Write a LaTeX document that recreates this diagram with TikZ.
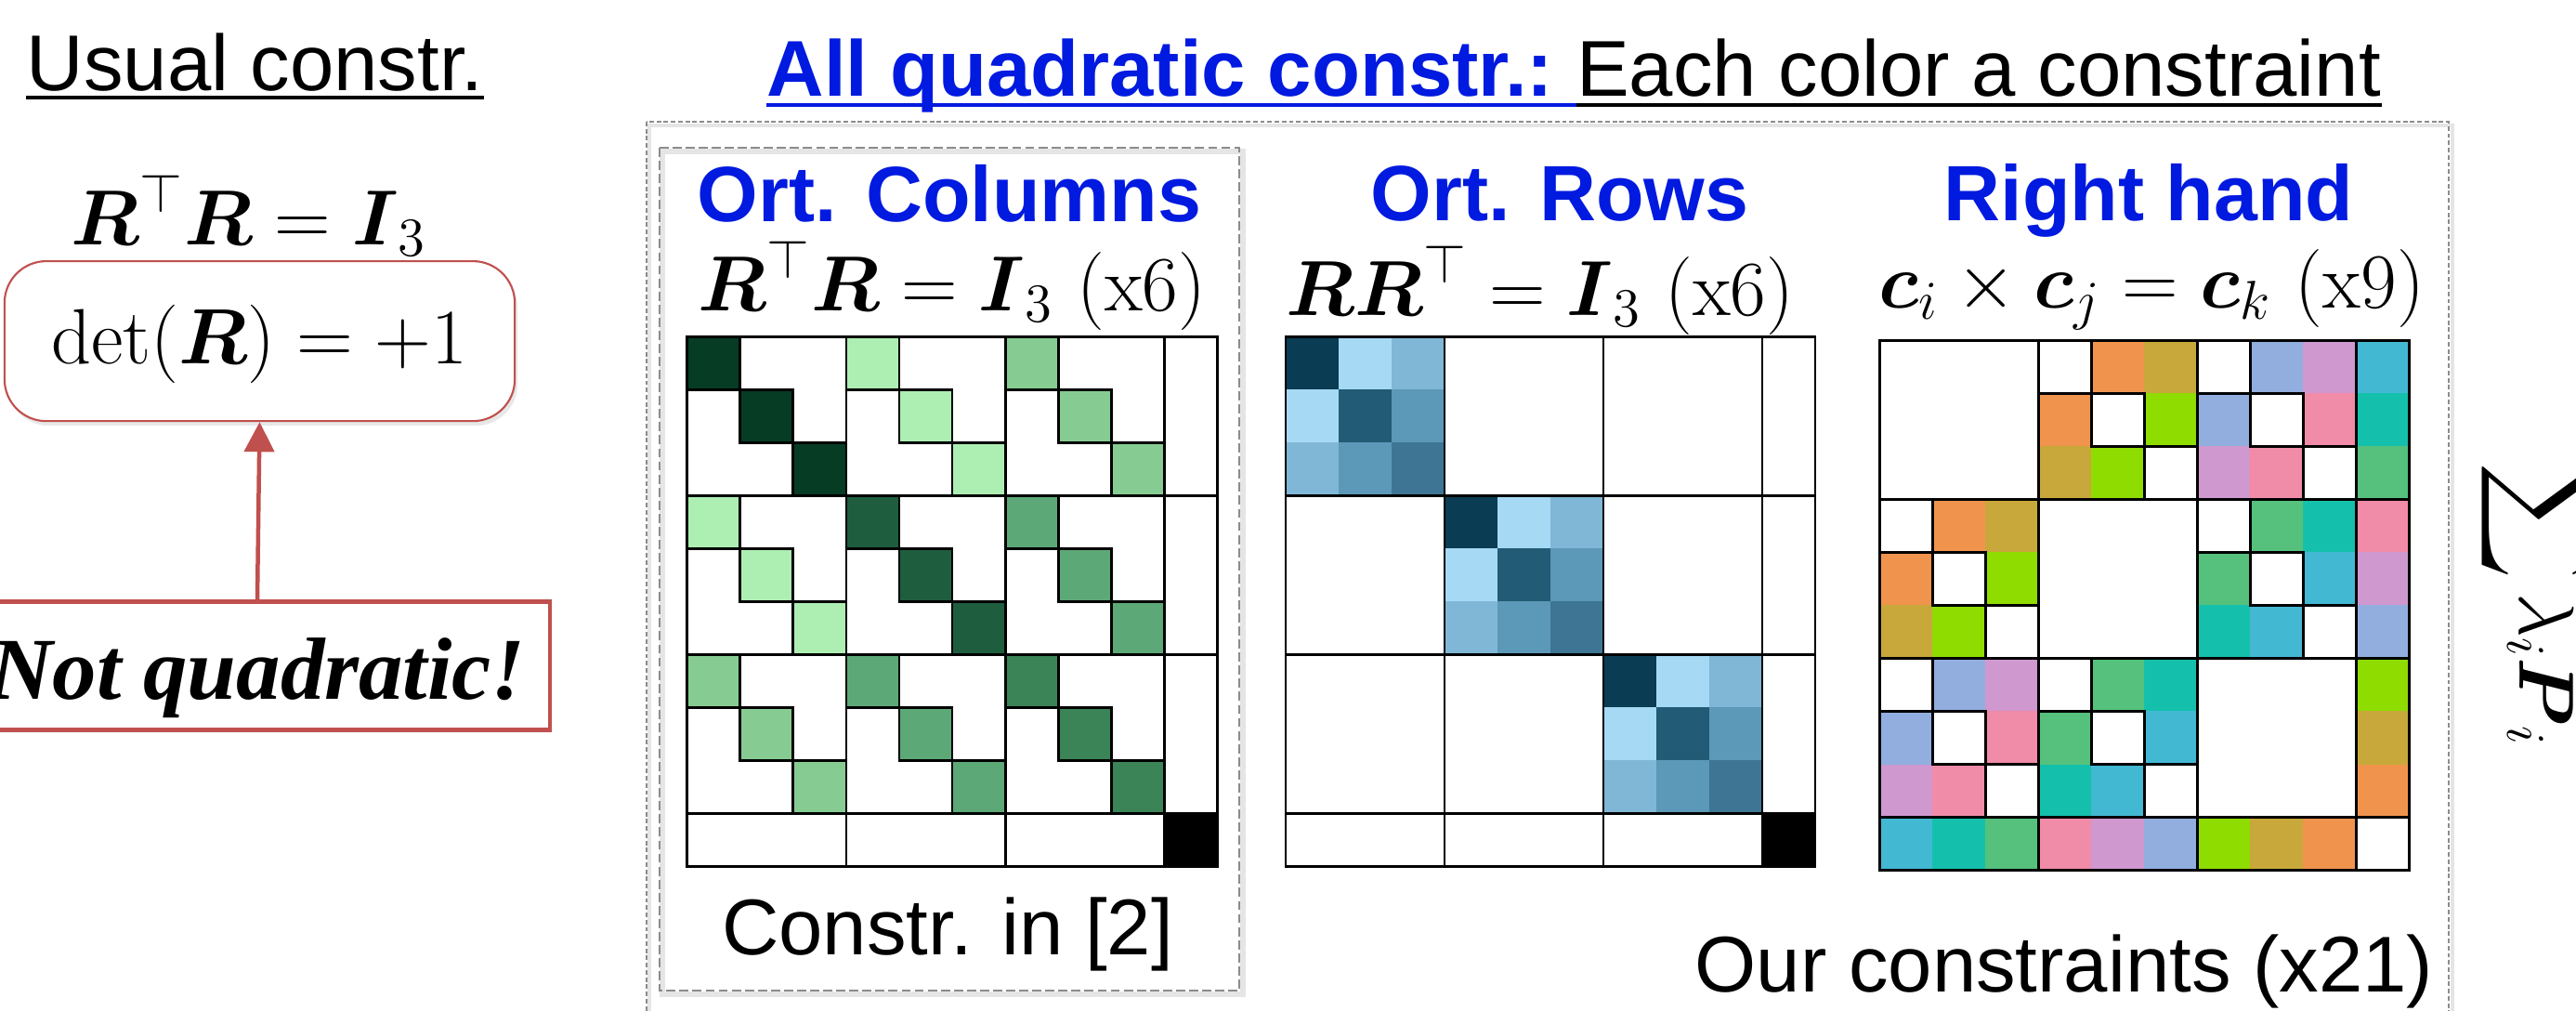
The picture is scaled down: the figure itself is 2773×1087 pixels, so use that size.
\RequirePackage{fix-cm}
\documentclass[tikz,border=0pt]{standalone}
\usepackage{amsmath}
\usepackage[no-math]{fontspec}
\setsansfont{Liberation Sans}
\newfontfamily\nqfont{Liberation Serif}
\usetikzlibrary{arrows.meta,shadows}
\definecolor{tblue}{RGB}{0,26,224}
\definecolor{nqred}{RGB}{192,80,77}
\definecolor{dashgray}{RGB}{140,140,140}
% greens
\definecolor{Gaa}{HTML}{063C24}
\definecolor{Gli}{HTML}{ADEEB3}
\definecolor{Gmi}{HTML}{86CC92}
\definecolor{Gbb}{HTML}{1E5E3F}
\definecolor{Gbc}{HTML}{5DA877}
\definecolor{Gcc}{HTML}{3A8457}
% blues
\definecolor{Baa}{HTML}{0A3C53}
\definecolor{Bab}{HTML}{A6D9F4}
\definecolor{Bac}{HTML}{80B7D6}
\definecolor{Bbb}{HTML}{215B75}
\definecolor{Bbc}{HTML}{5C98B8}
\definecolor{Bcc}{HTML}{3E7594}
% palette
\definecolor{POR}{HTML}{F0944D}
\definecolor{POL}{HTML}{C8A83A}
\definecolor{PLI}{HTML}{8FDC00}
\definecolor{PPE}{HTML}{91AEDF}
\definecolor{PLA}{HTML}{CF98CF}
\definecolor{PPK}{HTML}{F08BA8}
\definecolor{PGR}{HTML}{55C17C}
\definecolor{PTE}{HTML}{14C0AB}
\definecolor{PCY}{HTML}{43B8D3}
\begin{document}
\begin{tikzpicture}[x=0.01cm,y=-0.01cm,
  txt/.style={inner sep=0pt, anchor=base},
  sansT/.style={txt, font=\sffamily\fontsize{24.2pt}{29pt}\selectfont},
  headT/.style={txt, text=tblue, font=\sffamily\bfseries\fontsize{24pt}{29pt}\selectfont},
  mathT/.style={txt, font=\fontsize{23.9pt}{29pt}\selectfont},
  gridline/.style={draw=black, line width=0.75pt},
  detbox/.style={draw=nqred, line width=0.6pt, rounded corners=0.45cm, fill=white,
    minimum width=5.49cm, inner xsep=0pt, inner ysep=0pt, text height=1.10cm, text depth=0.62cm,
    font=\fontsize{24pt}{29pt}\selectfont,
    drop shadow={shadow xshift=0.03cm, shadow yshift=-0.05cm, opacity=0.18, fill=black!50}},
  nqbox/.style={draw=nqred, line width=1.3pt, fill=white,
    minimum width=6.30cm, inner xsep=0pt, inner ysep=0pt, text height=1.05cm, text depth=0.33cm,
    font=\fontsize{27pt}{32pt}\selectfont\nqfont\bfseries\itshape},
  redarrow/.style={draw=nqred, line width=1.28pt, -{Triangle[width=0.32cm,length=0.32cm]}},
  outerdash/.style={draw=dashgray, line width=0.43pt, dash pattern=on 1.4pt off 0.8pt},
  innerdash/.style={draw=dashgray, line width=0.5pt, dash pattern=on 2.8pt off 1.2pt},
  shadowline/.style={draw=black!10, line width=1pt}
]
\useasboundingbox (0,0) rectangle (2773,1087);
\clip (0,0) rectangle (2773,1087);
\fill[white] (0,0) rectangle (2773,1087);

% ---------------- left part ----------------
\node[sansT, anchor=base west] (usual) at (28,97) {Usual constr.};
\draw[line width=1.14pt] ([yshift=-0.075cm]usual.base west) -- ([yshift=-0.075cm]usual.base east);

\node[mathT] (rtr) at (268,263) {$\boldsymbol{R}^\top\boldsymbol{R}=\boldsymbol{I}_3$};

\node[detbox, anchor=north] (det) at (279.5,280) {$\det(\boldsymbol{R})=+1$};

\node[nqbox, anchor=north] (nq) at (277,645) {Not quadratic!};

\draw[redarrow] (nq.north) -- (det.south);

% ---------------- title ----------------
\node[sansT, anchor=base west, text=tblue, font=\sffamily\bfseries\fontsize{24.2pt}{29pt}\selectfont] (t1) at (825,103) {All quadratic constr.:\ \mbox{}};
\node[sansT, anchor=base west] (t2) at (t1.base east) {Each color a constraint};
\draw[tblue, line width=1.14pt] ([yshift=-0.10cm]t1.base west) -- ([yshift=-0.10cm]t1.base east);
\draw[black, line width=1.14pt] ([yshift=-0.10cm]t2.base west) -- ([yshift=-0.10cm]t2.base east);

% ---------------- frames ----------------
\draw[shadowline] (699,135) rectangle (2640,1100);
\draw[outerdash] (696,131) rectangle (2636,1100);
\draw[shadowline, line width=1.5pt] (713,163) rectangle (1338,1070);
\draw[innerdash] (710,159) rectangle (1334,1066);

% ---------------- headings ----------------
\node[headT] (h1) at (1022,238) {Ort. Columns};
\node[headT] (h2) at (1679,237) {Ort. Rows};
\node[headT] (h3) at (2313,237) {Right hand};

\node[mathT] (m1) at (1025,334) {$\boldsymbol{R}^\top\boldsymbol{R}=\boldsymbol{I}_3$ (x6)};
\node[mathT] (m2) at (1658,339) {$\boldsymbol{R}\boldsymbol{R}^\top=\boldsymbol{I}_3$ (x6)};
\node[mathT] (m3) at (2316,331) {$\boldsymbol{c}_i\times\boldsymbol{c}_j=\boldsymbol{c}_k$ (x9)};

% ---------------- matrix 1 : orthogonal columns ----------------
\begin{scope}[xshift=7.39cm, yshift=-3.62cm, x=0.571cm, y=-0.570cm]
  \foreach \bi/\bj/\col in {0/0/Gaa,0/1/Gli,0/2/Gmi,1/0/Gli,1/1/Gbb,1/2/Gbc,2/0/Gmi,2/1/Gbc,2/2/Gcc}{
    \begin{scope}[shift={(3*\bj,3*\bi)}]
      \foreach \k in {0,1,2} \filldraw[gridline, fill=\col] (\k,\k) rectangle ++(1,1);
    \end{scope}
  }
  \fill[black] (9,9) rectangle (10,10);
  \draw[gridline] (0,0) rectangle (10,10);
  \foreach \t in {3,6,9} {\draw[gridline] (\t,0) -- (\t,10); \draw[gridline] (0,\t) -- (10,\t);}
\end{scope}

% ---------------- matrix 2 : orthogonal rows ----------------
\begin{scope}[xshift=13.83cm, yshift=-3.62cm, x=0.570cm, y=-0.570cm]
  \foreach \b in {0,1,2}{
    \begin{scope}[shift={(3*\b,3*\b)}]
      \foreach \r/\cl/\col in {0/0/Baa,0/1/Bab,0/2/Bac,1/0/Bab,1/1/Bbb,1/2/Bbc,2/0/Bac,2/1/Bbc,2/2/Bcc}
        \fill[\col] (\cl,\r) rectangle ++(1,1);
    \end{scope}
  }
  \fill[black] (9,9) rectangle (10,10);
  \draw[gridline] (0,0) rectangle (10,10);
  \foreach \t in {3,6,9} {\draw[gridline] (\t,0) -- (\t,10); \draw[gridline] (0,\t) -- (10,\t);}
\end{scope}

% ---------------- matrix 3 : right hand ----------------
\begin{scope}[xshift=20.22cm, yshift=-3.66cm, x=0.570cm, y=-0.570cm]
  \foreach \bi/\bj/\xa/\xb/\xc in {0/1/POR/POL/PLI,1/0/POR/POL/PLI,0/2/PPE/PLA/PPK,2/0/PPE/PLA/PPK,1/2/PGR/PTE/PCY,2/1/PGR/PTE/PCY}{
    \begin{scope}[shift={(3*\bj,3*\bi)}]
      \fill[\xa] (1,0) rectangle ++(1,1); \fill[\xa] (0,1) rectangle ++(1,1);
      \fill[\xb] (2,0) rectangle ++(1,1); \fill[\xb] (0,2) rectangle ++(1,1);
      \fill[\xc] (2,1) rectangle ++(1,1); \fill[\xc] (1,2) rectangle ++(1,1);
      \foreach \k in {0,1,2} \draw[gridline] (\k,\k) rectangle ++(1,1);
    \end{scope}
  }
  \foreach \k/\col in {0/PCY,1/PTE,2/PGR,3/PPK,4/PLA,5/PPE,6/PLI,7/POL,8/POR}{
    \fill[\col] (9,\k) rectangle ++(1,1);
    \fill[\col] (\k,9) rectangle ++(1,1);
  }
  \draw[gridline] (0,0) rectangle (10,10);
  \foreach \t in {3,6,9} {\draw[gridline] (\t,0) -- (\t,10); \draw[gridline] (0,\t) -- (10,\t);}
\end{scope}

% ---------------- bottom labels ----------------
\node[sansT] (b1) at (1020,1027) {Constr. in [2]};
\node[sansT] (b2) at (2222,1067) {Our constraints (x21)};

% ---------------- rotated sum ----------------
\node[txt, rotate=-90, anchor=base west, font=\fontsize{23.9pt}{29pt}\selectfont] (sum) at (2712,497) {$\displaystyle\sum\lambda_i\boldsymbol{P}_i$};
\end{tikzpicture}
\end{document}
